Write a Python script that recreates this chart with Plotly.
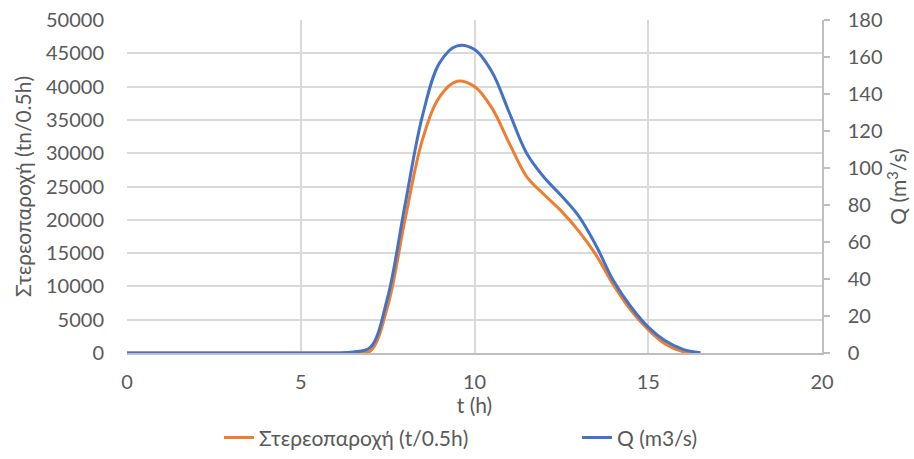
import plotly.graph_objects as go

t_hours = [0, 0.5, 1, 1.5, 2, 2.5, 3, 3.5, 4, 4.5, 5, 5.5, 6, 6.5, 7, 7.5, 8, 8.5,
           9, 9.5, 10, 10.5, 11, 11.5, 12, 12.5, 13, 13.5, 14, 14.5, 15, 15.5, 16, 16.5]
sediment = [0, 0, 0, 0, 0, 0, 0, 0, 0, 0, 0, 0, 0, 0, 300, 7000, 20000, 32000,
            38500, 40800, 40000, 36800, 31500, 26500, 23800, 21300, 18300, 14700,
            10200, 6400, 3500, 1300, 200, 0]
discharge = [0, 0, 0, 0, 0, 0, 0, 0, 0, 0, 0, 0, 0, 0.5, 3, 30, 80, 128,
             157, 166, 164, 152, 130, 108, 95, 85, 74, 58, 39, 25, 14, 6.5, 2, 0.2]

name_sed = "Στερεοπαροχή (t/0.5h)"
name_q = "Q (m3/s)"

FONT = "Lato"
GREY = "#595959"
GRID = "#d9d9d9"

fig = go.Figure()
fig.add_trace(go.Scatter(x=t_hours, y=sediment, name=name_sed, mode="lines",
                         line=dict(color="#ED7D31", width=3, shape="spline", smoothing=1),
                         yaxis="y", legend="legend"))
fig.add_trace(go.Scatter(x=t_hours, y=discharge, name=name_q, mode="lines",
                         line=dict(color="#4472C4", width=3, shape="spline", smoothing=1),
                         yaxis="y2", legend="legend2"))

leg_common = dict(orientation="h", xref="container", yref="container", y=0.046,
                  xanchor="left", yanchor="middle", font=dict(size=21, color=GREY),
                  bgcolor="rgba(0,0,0,0)")

fig.update_layout(
    width=914, height=459,
    margin=dict(l=127, r=92, t=20, b=106, autoexpand=False),
    paper_bgcolor="white", plot_bgcolor="white",
    font=dict(family=FONT, size=20, color=GREY),
    xaxis=dict(range=[0, 20], dtick=5, tick0=0, showgrid=True, gridcolor=GRID, gridwidth=1.5,
               zeroline=False, showline=True, linecolor="#bfbfbf", linewidth=1.5,
               ticks="", ticklabelstandoff=10, automargin=False,
               title=dict(text="t (h)", standoff=4, font=dict(size=21, color=GREY))),
    yaxis=dict(range=[0, 50000], dtick=5000, tickformat="d", showgrid=True, gridcolor=GRID,
               gridwidth=1.5, zeroline=False, showline=False, ticks="", ticklabelstandoff=22,
               automargin=False,
               title=dict(text="Στερεοπαροχή (tn/0.5h)", standoff=8, font=dict(size=21, color=GREY))),
    yaxis2=dict(range=[0, 180], dtick=20, overlaying="y", side="right", showgrid=False,
                zeroline=False, showline=True, linecolor="#bfbfbf", linewidth=1.5,
                ticks="outside", ticklen=6, tickcolor="#bfbfbf", tickwidth=1.5,
                ticklabelstandoff=14, automargin=False,
                title=dict(text="Q (m<sup>3</sup>/s)", standoff=9, font=dict(size=21, color=GREY))),
    legend=dict(x=219 / 914, **leg_common),
    legend2=dict(x=577 / 914, **leg_common),
    showlegend=True,
)

fig.write_html("out.html")
